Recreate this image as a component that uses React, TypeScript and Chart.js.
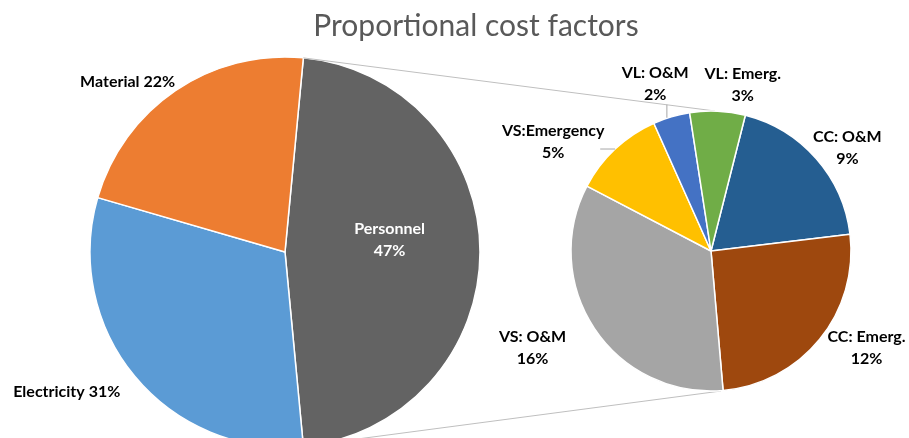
import React, { useEffect, useRef } from "react";
import { Chart, registerables } from "chart.js";

Chart.register(...registerables);

// ---- data ----
const mainLabels = ["Personnel", "Electricity", "Material"];
const mainValues = [47, 31, 22];
const mainColors = ["#636363", "#5B9BD5", "#ED7D31"];

const subLabels = ["CC: O&M", "CC: Emerg.", "VS: O&M", "VS:Emergency", "VL: O&M", "VL: Emerg."];
const subValues = [9, 12, 16, 5, 2, 3];
const subColors = ["#255E91", "#9E480E", "#A5A5A5", "#FFC000", "#4472C4", "#70AD47"];

const titleText = "Proportional cost factors";

// ---- label placement (style, not data) ----
const mainLabelPlace = [
  { shift: -6.6, f: 0.54, twoLines: true, color: "#ffffff" },
  { shift: 6.9, f: 1.33, twoLines: false, color: "#000000" },
  { shift: -8.5, f: 1.19, twoLines: false, color: "#000000" },
];
const subLabelPlace = [
  { shift: 4.3, f: 1.22, leader: "" },
  { shift: -7.1, f: 1.31, leader: "" },
  { shift: 5.2, f: 1.45, leader: "" },
  { shift: -12.1, f: 1.37, leader: "h" },
  { shift: -2, f: 1.26, leader: "v" },
  { shift: 8.1, f: 1.21, leader: "" },
];

const FONT = "Lato, 'Open Sans', sans-serif";

function makeLabelPlugin(labels: string[], values: number[], place: any[], id: string) {
  return {
    id,
    afterDatasetsDraw(chart: any) {
      const meta = chart.getDatasetMeta(0);
      const ctx = chart.ctx;
      ctx.save();
      ctx.font = `bold 16px ${FONT}`;
      ctx.textAlign = "center";
      ctx.textBaseline = "middle";
      meta.data.forEach((arc: any, i: number) => {
        const p = arc.getProps(["x", "y", "startAngle", "endAngle", "outerRadius"], true);
        const mid = (p.startAngle + p.endAngle) / 2;
        const pl = place[i];
        const a = mid + (pl.shift * Math.PI) / 180;
        const lx = p.x + Math.cos(a) * p.outerRadius * pl.f;
        const ly = p.y + Math.sin(a) * p.outerRadius * pl.f;
        const pct = `${values[i]}%`;
        ctx.fillStyle = pl.color || "#000000";
        if (pl.twoLines === false) {
          ctx.fillText(`${labels[i]} ${pct}`, lx, ly);
        } else {
          ctx.fillText(labels[i], lx, ly - 11);
          ctx.fillText(pct, lx, ly + 11);
        }
        if (pl.leader) {
          const ex = p.x + Math.cos(mid) * p.outerRadius;
          const ey = p.y + Math.sin(mid) * p.outerRadius;
          ctx.strokeStyle = "#A6A6A6";
          ctx.lineWidth = 1;
          ctx.beginPath();
          if (pl.leader === "v") {
            ctx.moveTo(ex - 4.5, ey + 1);
            ctx.lineTo(ex - 4.5, ly + 21);
          } else {
            ctx.moveTo(ex, ey);
            ctx.lineTo(lx + 47, ey);
          }
          ctx.stroke();
        }
      });
      ctx.restore();
    },
  };
}

const titlePlugin = {
  id: "customTitle",
  afterDraw(chart: any) {
    const ctx = chart.ctx;
    ctx.save();
    ctx.font = `30px ${FONT}`;
    ctx.fillStyle = "#595959";
    ctx.textAlign = "center";
    ctx.textBaseline = "alphabetic";
    ctx.fillText(titleText, 476, 36);
    ctx.restore();
  },
};

export default function App() {
  const leftRef = useRef<HTMLCanvasElement>(null);
  const rightRef = useRef<HTMLCanvasElement>(null);

  useEffect(() => {
    const left = new Chart(leftRef.current!, {
      type: "pie",
      data: {
        labels: mainLabels,
        datasets: [
          {
            data: mainValues,
            backgroundColor: mainColors,
            borderColor: "#ffffff",
            borderWidth: 1.5,
            hoverOffset: 0,
            radius: 195,
          } as any,
        ],
      },
      options: {
        animation: false,
        responsive: false,
        rotation: 90 - (mainValues[0] * 3.6) / 2,
        layout: { padding: { left: 0, right: 339, top: 66, bottom: 0 } },
        plugins: {
          legend: { display: false },
          tooltip: { enabled: false },
          title: { display: false },
        },
      },
      plugins: [makeLabelPlugin(mainLabels, mainValues, mainLabelPlace, "mainLabels"), titlePlugin],
    });

    const connector = {
      id: "connector",
      beforeDatasetsDraw(chart: any) {
        const lm = left.getDatasetMeta(0);
        const arc: any = lm.data[0];
        const lp = arc.getProps(["x", "y", "startAngle", "endAngle", "outerRadius"], true);
        const rm = chart.getDatasetMeta(0);
        const rp = (rm.data[0] as any).getProps(["x", "y", "outerRadius"], true);
        const ctx = chart.ctx;
        ctx.save();
        ctx.strokeStyle = "#BFBFBF";
        ctx.lineWidth = 1;
        ctx.beginPath();
        ctx.moveTo(lp.x + Math.cos(lp.startAngle) * lp.outerRadius, lp.y + Math.sin(lp.startAngle) * lp.outerRadius);
        ctx.lineTo(rp.x + 4, rp.y - rp.outerRadius);
        ctx.moveTo(lp.x + Math.cos(lp.endAngle) * lp.outerRadius, lp.y + Math.sin(lp.endAngle) * lp.outerRadius);
        ctx.lineTo(rp.x + 10, rp.y + rp.outerRadius);
        ctx.stroke();
        ctx.restore();
      },
    };

    const right = new Chart(rightRef.current!, {
      type: "pie",
      data: {
        labels: subLabels,
        datasets: [
          {
            data: subValues,
            backgroundColor: subColors,
            borderColor: "#ffffff",
            borderWidth: 1.5,
            hoverOffset: 0,
            radius: 140,
          } as any,
        ],
      },
      options: {
        animation: false,
        responsive: false,
        rotation: 14.2,
        layout: { padding: { left: 566, right: 53, top: 106, bottom: 42 } },
        plugins: {
          legend: { display: false },
          tooltip: { enabled: false },
          title: { display: false },
        },
      },
      plugins: [connector, makeLabelPlugin(subLabels, subValues, subLabelPlace, "subLabels")],
    });

    return () => {
      right.destroy();
      left.destroy();
    };
  }, []);

  return (
    <div
      style={{
        position: "fixed",
        left: 0,
        top: 0,
        width: 909,
        height: 438,
        overflow: "hidden",
        background: "#ffffff",
      }}
    >
      <canvas ref={leftRef} width={909} height={438} style={{ position: "absolute", left: 0, top: 0 }} />
      <canvas ref={rightRef} width={909} height={438} style={{ position: "absolute", left: 0, top: 0 }} />
    </div>
  );
}
